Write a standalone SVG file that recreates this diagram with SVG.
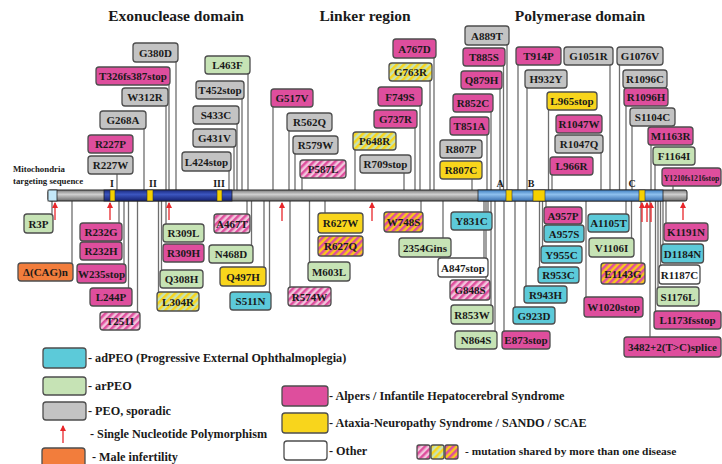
<svg xmlns="http://www.w3.org/2000/svg" width="722" height="464" viewBox="0 0 722 464">
<style>
.b{stroke:#4d4d4d;stroke-width:1.3}
.gy{fill:#c3c3c3}.mg{fill:#de4e9d}.gr{fill:#c6e3b5}.cy{fill:#5ccad9}.ye{fill:#f8d51c}.or{fill:#f27d3c}.wh{fill:#fff}
.sp{fill:url(#stPink)}.syg{fill:url(#stYG)}.smy{fill:url(#stMY)}
.t{font-family:"Liberation Serif","Times New Roman",serif;font-weight:bold;font-size:11px;fill:#1a1a1a;text-anchor:middle}
.ttl{font-family:"Liberation Serif","Times New Roman",serif;font-weight:bold;font-size:15.5px;fill:#1a1a1a;text-anchor:middle}
.lg{font-family:"Liberation Serif","Times New Roman",serif;font-weight:bold;font-size:12.2px;fill:#1a1a1a}
.lg2{font-family:"Liberation Serif","Times New Roman",serif;font-weight:bold;font-size:11.4px;fill:#1a1a1a}
.mk{font-family:"Liberation Serif","Times New Roman",serif;font-weight:bold;font-size:10px;fill:#1a1a1a;text-anchor:middle}
.sm{font-family:"Liberation Serif","Times New Roman",serif;font-weight:bold;font-size:8.8px;fill:#1a1a1a}
#conn line{stroke:#6e6e6e;stroke-width:1.3}
.snp{stroke:#e8262a;stroke-width:1.3;marker-end:url(#ah)}
</style>
<defs>
<pattern id="stPink" width="5" height="5" patternUnits="userSpaceOnUse" patternTransform="rotate(45)"><rect width="5" height="5" fill="#f1c6dc"/><rect width="2.5" height="5" fill="#de4e9d"/></pattern>
<pattern id="stYG" width="5" height="5" patternUnits="userSpaceOnUse" patternTransform="rotate(45)"><rect width="5" height="5" fill="#c6e3b5"/><rect width="2.5" height="5" fill="#f8d51c"/></pattern>
<pattern id="stMY" width="5" height="5" patternUnits="userSpaceOnUse" patternTransform="rotate(45)"><rect width="5" height="5" fill="#f8c81c"/><rect width="2.5" height="5" fill="#de4e9d"/></pattern>
<linearGradient id="gGray" x1="0" y1="0" x2="0" y2="1"><stop offset="0" stop-color="#7a7a7a"/><stop offset="0.4" stop-color="#cfcfcf"/><stop offset="1" stop-color="#6a6a6a"/></linearGradient>
<linearGradient id="gDark" x1="0" y1="0" x2="0" y2="1"><stop offset="0" stop-color="#1a2a80"/><stop offset="0.4" stop-color="#3c56c0"/><stop offset="1" stop-color="#142070"/></linearGradient>
<linearGradient id="gLight" x1="0" y1="0" x2="0" y2="1"><stop offset="0" stop-color="#3f7fc0"/><stop offset="0.4" stop-color="#8ec0ee"/><stop offset="1" stop-color="#3a70b0"/></linearGradient>
<marker id="ah" markerWidth="6" markerHeight="6" refX="5" refY="3" orient="auto" markerUnits="userSpaceOnUse"><path d="M0,0 L6,3 L0,6 z" fill="#e8262a"/></marker>
</defs>
<rect width="722" height="464" fill="#fff"/>

<text class="ttl" x="176" y="21">Exonuclease domain</text>
<text class="ttl" x="365" y="21">Linker region</text>
<text class="ttl" x="580" y="21">Polymerase domain</text>

<g id="conn">
<line x1="176" y1="62" x2="176" y2="190"/>
<line x1="169" y1="85" x2="169" y2="190"/>
<line x1="166" y1="106" x2="166" y2="190"/>
<line x1="144" y1="129" x2="144" y2="190"/>
<line x1="117" y1="174" x2="117" y2="190"/>
<line x1="248" y1="74" x2="248" y2="190"/>
<line x1="242" y1="99" x2="242" y2="190"/>
<line x1="237" y1="124" x2="237" y2="190"/>
<line x1="234" y1="147" x2="234" y2="190"/>
<line x1="229" y1="171" x2="229" y2="190"/>
<line x1="273" y1="107" x2="273" y2="190"/>
<line x1="289" y1="131" x2="289" y2="190"/>
<line x1="295" y1="154" x2="295" y2="190"/>
<line x1="302" y1="178" x2="302" y2="190"/>
<line x1="355" y1="150" x2="355" y2="190"/>
<line x1="404" y1="173" x2="404" y2="190"/>
<line x1="415" y1="128" x2="415" y2="190"/>
<line x1="420" y1="106" x2="420" y2="190"/>
<line x1="430" y1="81" x2="430" y2="190"/>
<line x1="434" y1="58" x2="434" y2="190"/>
<line x1="472" y1="179" x2="472" y2="190"/>
<line x1="487" y1="135" x2="487" y2="190"/>
<line x1="491" y1="112" x2="491" y2="190"/>
<line x1="500" y1="89" x2="500" y2="190"/>
<line x1="503.5" y1="66" x2="503.5" y2="190"/>
<line x1="507" y1="45" x2="507" y2="190"/>
<line x1="518" y1="65" x2="518" y2="190"/>
<line x1="527" y1="88" x2="527" y2="190"/>
<line x1="548.5" y1="110" x2="548.5" y2="190"/>
<line x1="552" y1="175" x2="552" y2="190"/>
<line x1="601" y1="153" x2="601" y2="190"/>
<line x1="610" y1="65" x2="610" y2="190"/>
<line x1="619.5" y1="65" x2="619.5" y2="190"/>
<line x1="626" y1="106" x2="626" y2="190"/>
<line x1="632" y1="126" x2="632" y2="190"/>
<line x1="651" y1="145" x2="651" y2="190"/>
<line x1="655" y1="165" x2="655" y2="190"/>
<line x1="673" y1="186" x2="673" y2="190"/>
<line x1="52" y1="201" x2="52" y2="214"/>
<line x1="72" y1="201" x2="72" y2="263"/>
<line x1="119" y1="201" x2="119" y2="223"/>
<line x1="124" y1="201" x2="124" y2="264"/>
<line x1="128.5" y1="201" x2="128.5" y2="288"/>
<line x1="137.5" y1="201" x2="137.5" y2="312"/>
<line x1="158.5" y1="201" x2="158.5" y2="292"/>
<line x1="161.5" y1="201" x2="161.5" y2="270"/>
<line x1="166" y1="201" x2="166" y2="224"/>
<line x1="247" y1="201" x2="247" y2="214"/>
<line x1="251.5" y1="201" x2="251.5" y2="245"/>
<line x1="264" y1="201" x2="264" y2="267"/>
<line x1="269.5" y1="201" x2="269.5" y2="292"/>
<line x1="290" y1="201" x2="290" y2="287"/>
<line x1="309.5" y1="201" x2="309.5" y2="262"/>
<line x1="325" y1="201" x2="325" y2="213"/>
<line x1="421" y1="201" x2="421" y2="212"/>
<line x1="443" y1="201" x2="443" y2="238"/>
<line x1="488" y1="201" x2="488" y2="212"/>
<line x1="484" y1="201" x2="484" y2="258"/>
<line x1="486" y1="201" x2="486" y2="279"/>
<line x1="491" y1="201" x2="491" y2="305"/>
<line x1="495" y1="201" x2="495" y2="331"/>
<line x1="504" y1="201" x2="504" y2="331"/>
<line x1="515" y1="201" x2="515" y2="307"/>
<line x1="526" y1="201" x2="526" y2="286"/>
<line x1="539.5" y1="201" x2="539.5" y2="267"/>
<line x1="542.5" y1="201" x2="542.5" y2="246"/>
<line x1="546" y1="201" x2="546" y2="207"/>
<line x1="586" y1="201" x2="586" y2="297"/>
<line x1="626" y1="201" x2="626" y2="214"/>
<line x1="631.5" y1="201" x2="631.5" y2="238"/>
<line x1="641" y1="201" x2="641" y2="263"/>
<line x1="650" y1="201" x2="650" y2="337"/>
<line x1="655.5" y1="201" x2="655.5" y2="311"/>
<line x1="658" y1="201" x2="658" y2="287"/>
<line x1="660.5" y1="201" x2="660.5" y2="265"/>
<line x1="663" y1="201" x2="663" y2="244"/>
<line x1="666" y1="201" x2="666" y2="223"/>
</g>

<g id="bar">
<rect x="48" y="190" width="639" height="11" rx="2" fill="url(#gGray)" stroke="#222" stroke-width="1"/>
<rect x="104" y="190" width="128" height="11" fill="url(#gDark)" stroke="#222" stroke-width="0.8"/>
<rect x="478" y="190" width="185" height="11" fill="url(#gLight)" stroke="#222" stroke-width="0.8"/>
<rect x="48" y="190" width="9" height="11" fill="#c4e8f8" stroke="#222" stroke-width="0.8"/>
<g fill="#f5d000" stroke="#333" stroke-width="0.6">
<rect x="110" y="190" width="5" height="11"/>
<rect x="147" y="190" width="6" height="11"/>
<rect x="217" y="190" width="5" height="11"/>
<rect x="506" y="190" width="6" height="11"/>
<rect x="533" y="190" width="12" height="11"/>
<rect x="639" y="190" width="6" height="11"/>
</g>
<text class="mk" x="112" y="187">I</text>
<text class="mk" x="153" y="187">II</text>
<text class="mk" x="219" y="187">III</text>
<text class="mk" x="500" y="187">A</text>
<text class="mk" x="531" y="187">B</text>
<text class="mk" x="632" y="187">C</text>
<text class="sm" x="13" y="172">Mitochondria</text>
<text class="sm" x="13" y="184">targeting sequence</text>
</g>

<g id="snps">
<line class="snp" x1="55" y1="220" x2="55" y2="203"/>
<line class="snp" x1="110" y1="220" x2="110" y2="203"/>
<line class="snp" x1="169" y1="220" x2="169" y2="203"/>
<line class="snp" x1="282" y1="221" x2="282" y2="203"/>
<line class="snp" x1="372" y1="221" x2="372" y2="203"/>
<line class="snp" x1="642" y1="222" x2="642" y2="203"/>
<line class="snp" x1="647" y1="222" x2="647" y2="203"/>
<line class="snp" x1="651" y1="222" x2="651" y2="203"/>
<line class="snp" x1="683" y1="220" x2="683" y2="203"/>
</g>

<g id="n-G380D"><rect class="b gy" x="133" y="43" width="45" height="19" rx="3"/><text class="t" x="155.5" y="56.5">G380D</text></g>
<g id="n-T326fs387stop"><rect class="b mg" x="96" y="67" width="74" height="18" rx="3"/><text class="t" x="133" y="80">T326fs387stop</text></g>
<g id="n-W312R"><rect class="b gy" x="122" y="88" width="46" height="18" rx="3"/><text class="t" x="145" y="101">W312R</text></g>
<g id="n-G268A"><rect class="b gy" x="100" y="111" width="46" height="18" rx="3"/><text class="t" x="123" y="124">G268A</text></g>
<g id="n-R227P"><rect class="b mg" x="88" y="135" width="45" height="18" rx="3"/><text class="t" x="110.5" y="148">R227P</text></g>
<g id="n-R227W"><rect class="b gy" x="88" y="156" width="45" height="18" rx="3"/><text class="t" x="110.5" y="169">R227W</text></g>
<g id="n-L463F"><rect class="b gr" x="205" y="56" width="45" height="18" rx="3"/><text class="t" x="227.5" y="69">L463F</text></g>
<g id="n-T452stop"><rect class="b gy" x="196" y="81" width="48" height="18" rx="3"/><text class="t" x="220" y="94">T452stop</text></g>
<g id="n-S433C"><rect class="b gy" x="193" y="106" width="46" height="18" rx="3"/><text class="t" x="216" y="119">S433C</text></g>
<g id="n-G431V"><rect class="b gy" x="193" y="129" width="43" height="18" rx="3"/><text class="t" x="214.5" y="142">G431V</text></g>
<g id="n-L424stop"><rect class="b gy" x="182" y="152" width="49" height="19" rx="3"/><text class="t" x="206.5" y="165.5">L424stop</text></g>

<g id="n-G517V"><rect class="b mg" x="271" y="89" width="42" height="18" rx="3"/><text class="t" x="292" y="102">G517V</text></g>
<g id="n-R562Q"><rect class="b gy" x="287" y="113" width="45" height="18" rx="3"/><text class="t" x="309.5" y="126">R562Q</text></g>
<g id="n-R579W"><rect class="b gy" x="293" y="136" width="45" height="18" rx="3"/><text class="t" x="315.5" y="149">R579W</text></g>
<g id="n-P587L"><rect class="b sp" x="300" y="160" width="46" height="18" rx="3"/><text class="t" x="323" y="173">P587L</text></g>
<g id="n-P648R"><rect class="b syg" x="353" y="132" width="43" height="18" rx="3"/><text class="t" x="374.5" y="145">P648R</text></g>
<g id="n-R709stop"><rect class="b gy" x="360" y="155" width="51" height="18" rx="3"/><text class="t" x="385.5" y="168">R709stop</text></g>
<g id="n-G737R"><rect class="b mg" x="374" y="110" width="43" height="18" rx="3"/><text class="t" x="395.5" y="123">G737R</text></g>
<g id="n-F749S"><rect class="b mg" x="378" y="87" width="44" height="19" rx="3"/><text class="t" x="400" y="100.5">F749S</text></g>
<g id="n-G763R"><rect class="b syg" x="389" y="63" width="43" height="18" rx="3"/><text class="t" x="410.5" y="76">G763R</text></g>
<g id="n-A767D"><rect class="b mg" x="393" y="39" width="43" height="19" rx="3"/><text class="t" x="414.5" y="52.5">A767D</text></g>

<g id="n-A889T"><rect class="b gy" x="465" y="26" width="44" height="19" rx="3"/><text class="t" x="487" y="39.5">A889T</text></g>
<g id="n-T885S"><rect class="b mg" x="463" y="48" width="42" height="18" rx="3"/><text class="t" x="484" y="61">T885S</text></g>
<g id="n-Q879H"><rect class="b mg" x="461" y="71" width="41" height="18" rx="3"/><text class="t" x="481.5" y="84">Q879H</text></g>
<g id="n-R852C"><rect class="b mg" x="453" y="94" width="40" height="18" rx="3"/><text class="t" x="473" y="107">R852C</text></g>
<g id="n-T851A"><rect class="b mg" x="450" y="117" width="39" height="18" rx="3"/><text class="t" x="469.5" y="130">T851A</text></g>
<g id="n-R807P"><rect class="b gy" x="440" y="140" width="42" height="18" rx="3"/><text class="t" x="461" y="153">R807P</text></g>
<g id="n-R807C"><rect class="b ye" x="440" y="161" width="42" height="18" rx="3"/><text class="t" x="461" y="174">R807C</text></g>
<g id="n-T914P"><rect class="b mg" x="516" y="47" width="45" height="18" rx="3"/><text class="t" x="538.5" y="60">T914P</text></g>
<g id="n-G1051R"><rect class="b gy" x="564" y="47" width="49" height="18" rx="3"/><text class="t" x="588.5" y="60">G1051R</text></g>
<g id="n-G1076V"><rect class="b gy" x="617" y="47" width="46" height="18" rx="3"/><text class="t" x="640" y="60">G1076V</text></g>
<g id="n-H932Y"><rect class="b gy" x="525" y="70" width="42" height="18" rx="3"/><text class="t" x="546" y="83">H932Y</text></g>
<g id="n-L965stop"><rect class="b ye" x="547" y="92" width="50" height="18" rx="3"/><text class="t" x="572" y="105">L965stop</text></g>
<g id="n-R1047W"><rect class="b mg" x="556" y="115" width="46" height="18" rx="3"/><text class="t" x="579" y="128">R1047W</text></g>
<g id="n-R1047Q"><rect class="b gy" x="555" y="135" width="48" height="18" rx="3"/><text class="t" x="579" y="148">R1047Q</text></g>
<g id="n-L966R"><rect class="b mg" x="550" y="157" width="43" height="18" rx="3"/><text class="t" x="571.5" y="170">L966R</text></g>
<g id="n-R1096C"><rect class="b gy" x="623" y="70" width="44" height="18" rx="3"/><text class="t" x="645" y="83">R1096C</text></g>
<g id="n-R1096H"><rect class="b mg" x="624" y="88" width="44" height="18" rx="3"/><text class="t" x="646" y="101">R1096H</text></g>
<g id="n-S1104C"><rect class="b gy" x="630" y="108" width="45" height="18" rx="3"/><text class="t" x="652.5" y="121">S1104C</text></g>
<g id="n-M1163R"><rect class="b mg" x="648" y="127" width="45" height="18" rx="3"/><text class="t" x="670.5" y="140">M1163R</text></g>
<g id="n-F1164I"><rect class="b gr" x="653" y="147" width="42" height="18" rx="3"/><text class="t" x="674" y="160">F1164I</text></g>
<g id="n-Y1210fs1216stop"><rect class="b mg" x="662" y="168" width="59" height="18" rx="3"/><text class="t" x="691.5" y="180.5" style="font-size:7.7px">Y1210fs1216stop</text></g>

<g id="n-R3P"><rect class="b gr" x="24" y="214" width="29" height="19" rx="3"/><text class="t" x="38.5" y="227.5">R3P</text></g>
<g id="n-dCAGn"><rect class="b or" x="18" y="263" width="55" height="18" rx="3"/><text class="t" x="45.5" y="276">Δ(CAG)n</text></g>
<g id="n-R232G"><rect class="b mg" x="80" y="223" width="42" height="18" rx="3"/><text class="t" x="101" y="236">R232G</text></g>
<g id="n-R232H"><rect class="b mg" x="80" y="242" width="42" height="18" rx="3"/><text class="t" x="101" y="255">R232H</text></g>
<g id="n-W235stop"><rect class="b mg" x="77" y="264" width="49" height="19" rx="3"/><text class="t" x="101.5" y="277.5">W235stop</text></g>
<g id="n-L244P"><rect class="b mg" x="90" y="288" width="42" height="18" rx="3"/><text class="t" x="111" y="301">L244P</text></g>
<g id="n-T251I"><rect class="b sp" x="100" y="312" width="40" height="18" rx="3"/><text class="t" x="120" y="325">T251I</text></g>
<g id="n-R309L"><rect class="b gr" x="163" y="224" width="41" height="18" rx="3"/><text class="t" x="183.5" y="237">R309L</text></g>
<g id="n-R309H"><rect class="b mg" x="163" y="244" width="41" height="18" rx="3"/><text class="t" x="183.5" y="257">R309H</text></g>
<g id="n-Q308H"><rect class="b gr" x="160" y="270" width="43" height="18" rx="3"/><text class="t" x="181.5" y="283">Q308H</text></g>
<g id="n-L304R"><rect class="b syg" x="157" y="292" width="42" height="19" rx="3"/><text class="t" x="178" y="305.5">L304R</text></g>
<g id="n-A467T"><rect class="b sp" x="214" y="214" width="36" height="19" rx="3"/><text class="t" x="232" y="227.5">A467T</text></g>
<g id="n-N468D"><rect class="b gr" x="209" y="245" width="44" height="18" rx="3"/><text class="t" x="231" y="258">N468D</text></g>
<g id="n-Q497H"><rect class="b ye" x="220" y="267" width="46" height="19" rx="3"/><text class="t" x="243" y="280.5">Q497H</text></g>
<g id="n-S511N"><rect class="b cy" x="230" y="292" width="41" height="18" rx="3"/><text class="t" x="250.5" y="305">S511N</text></g>
<g id="n-R627W"><rect class="b ye" x="318" y="213" width="45" height="20" rx="3"/><text class="t" x="340.5" y="227">R627W</text></g>
<g id="n-R627Q"><rect class="b smy" x="318" y="236" width="45" height="20" rx="3"/><text class="t" x="340.5" y="250">R627Q</text></g>
<g id="n-M603L"><rect class="b gr" x="308" y="262" width="42" height="19" rx="3"/><text class="t" x="329" y="275.5">M603L</text></g>
<g id="n-R574W"><rect class="b sp" x="288" y="287" width="43" height="19" rx="3"/><text class="t" x="309.5" y="300.5">R574W</text></g>
<g id="n-W748S"><rect class="b smy" x="384" y="212" width="39" height="20" rx="3"/><text class="t" x="403.5" y="226">W748S</text></g>
<g id="n-2354Gins"><rect class="b gr" x="399" y="238" width="52" height="19" rx="3"/><text class="t" x="425" y="251.5">2354Gins</text></g>
<g id="n-Y831C"><rect class="b cy" x="451" y="212" width="41" height="18" rx="3"/><text class="t" x="471.5" y="225">Y831C</text></g>
<g id="n-A847stop"><rect class="b wh" x="438" y="258" width="50" height="19" rx="3"/><text class="t" x="463" y="271.5">A847stop</text></g>
<g id="n-G848S"><rect class="b sp" x="450" y="280" width="40" height="20" rx="3"/><text class="t" x="470" y="294">G848S</text></g>
<g id="n-R853W"><rect class="b gr" x="451" y="305" width="42" height="19" rx="3"/><text class="t" x="472" y="318.5">R853W</text></g>
<g id="n-N864S"><rect class="b gr" x="455" y="331" width="42" height="18" rx="3"/><text class="t" x="476" y="344">N864S</text></g>
<g id="n-E873stop"><rect class="b mg" x="502" y="331" width="48" height="18" rx="3"/><text class="t" x="526" y="344">E873stop</text></g>
<g id="n-G923D"><rect class="b cy" x="513" y="307" width="42" height="17" rx="3"/><text class="t" x="534" y="319.5">G923D</text></g>
<g id="n-R943H"><rect class="b cy" x="524" y="286" width="43" height="17" rx="3"/><text class="t" x="545.5" y="298.5">R943H</text></g>
<g id="n-R953C"><rect class="b cy" x="538" y="267" width="41" height="16" rx="3"/><text class="t" x="558.5" y="279">R953C</text></g>
<g id="n-Y955C"><rect class="b cy" x="541" y="246" width="41" height="17" rx="3"/><text class="t" x="561.5" y="258.5">Y955C</text></g>
<g id="n-A957S"><rect class="b cy" x="544" y="225" width="40" height="17" rx="3"/><text class="t" x="564" y="237.5">A957S</text></g>
<g id="n-A957P"><rect class="b mg" x="544" y="207" width="38" height="17" rx="3"/><text class="t" x="563" y="219.5">A957P</text></g>
<g id="n-A1105T"><rect class="b cy" x="588" y="214" width="41" height="18" rx="3"/><text class="t" x="608.5" y="227">A1105T</text></g>
<g id="n-V1106I"><rect class="b gr" x="589" y="238" width="45" height="19" rx="3"/><text class="t" x="611.5" y="251.5">V1106I</text></g>
<g id="n-E1143G"><rect class="b smy" x="601" y="263" width="44" height="21" rx="3"/><text class="t" x="623" y="277.5">E1143G</text></g>
<g id="n-W1020stop"><rect class="b mg" x="584" y="297" width="59" height="20" rx="3"/><text class="t" x="613.5" y="311">W1020stop</text></g>
<g id="n-K1191N"><rect class="b mg" x="664" y="223" width="44" height="18" rx="3"/><text class="t" x="686" y="236">K1191N</text></g>
<g id="n-D1184N"><rect class="b cy" x="661.5" y="244" width="42" height="19" rx="3"/><text class="t" x="682.5" y="257.5">D1184N</text></g>
<g id="n-R1187C"><rect class="b wh" x="659" y="265" width="41" height="19" rx="3"/><text class="t" x="679.5" y="278.5">R1187C</text></g>
<g id="n-S1176L"><rect class="b gr" x="657" y="287" width="42" height="19" rx="3"/><text class="t" x="678" y="300.5">S1176L</text></g>
<g id="n-L1173fsstop"><rect class="b mg" x="654" y="311" width="67" height="18" rx="3"/><text class="t" x="687.5" y="324">L1173fsstop</text></g>
<g id="n-3482splice"><rect class="b mg" x="624" y="337" width="97" height="20" rx="3"/><text class="t" x="672.5" y="351">3482+2(T&gt;C)splice</text></g>

<g id="legend">
<rect class="b cy" x="43" y="348" width="43" height="20" rx="3"/><text class="lg" x="88" y="362">- adPEO (Progressive External Ophthalmoplegia)</text>
<rect class="b gr" x="43" y="377" width="43" height="18" rx="3"/><text class="lg" x="88" y="390">- arPEO</text>
<rect class="b gy" x="43" y="402" width="43" height="18" rx="3"/><text class="lg" x="88" y="415">- PEO, sporadic</text>
<line class="snp" x1="63" y1="443" x2="63" y2="426"/><text class="lg" x="90" y="438">- Single Nucleotide Polymorphism</text>
<rect class="b or" x="42" y="448" width="43" height="20" rx="3"/><text class="lg" x="92" y="461">- Male infertility</text>
<rect class="b mg" x="282" y="386" width="46" height="20" rx="3"/><text class="lg" x="329" y="400">- Alpers / Infantile Hepatocerebral Syndrome</text>
<rect class="b ye" x="282" y="413" width="46" height="20" rx="3"/><text class="lg" x="329" y="427">- Ataxia-Neuropathy Syndrome / SANDO / SCAE</text>
<rect class="b wh" x="284" y="441" width="43" height="19" rx="3"/><text class="lg" x="329" y="455">- Other</text>
<rect class="b sp" x="417" y="445" width="13" height="14" rx="2"/>
<rect class="b syg" x="431" y="445" width="13" height="14" rx="2"/>
<rect class="b smy" x="445" y="445" width="13" height="14" rx="2"/>
<text class="lg2" x="465" y="455">- mutation shared by more than one disease</text>
</g>
</svg>
